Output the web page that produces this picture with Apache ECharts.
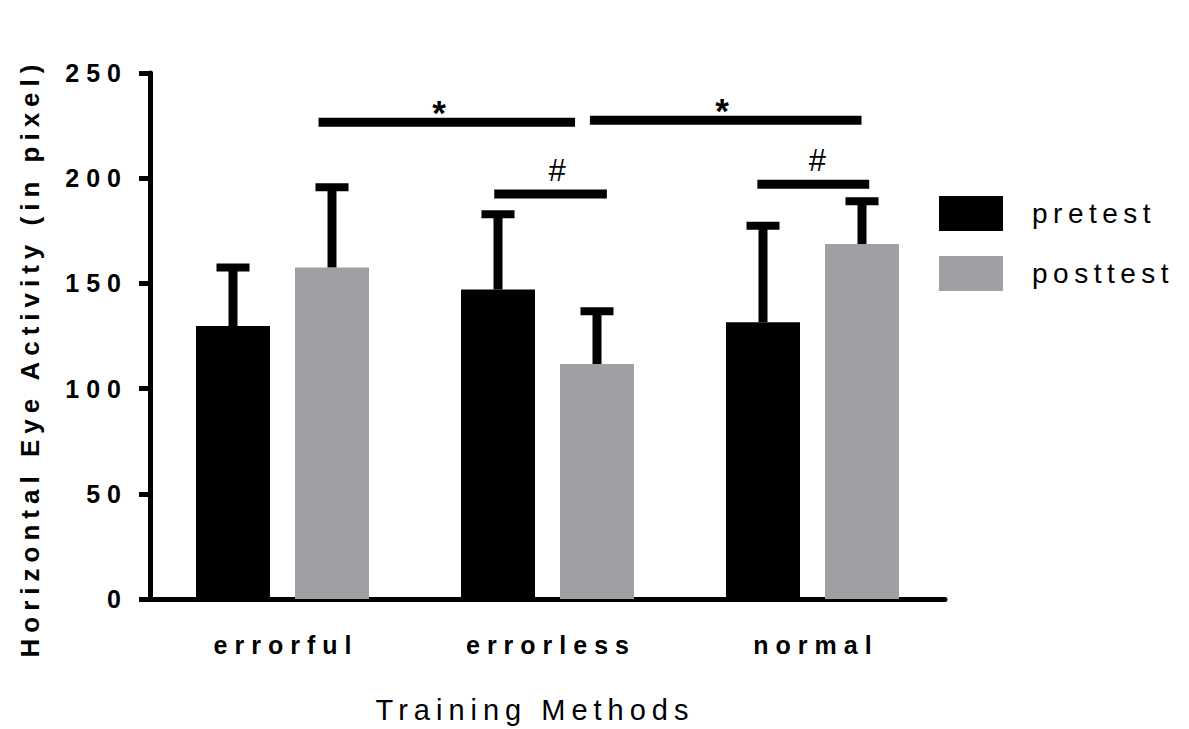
<!DOCTYPE html>
<html>
<head>
<meta charset="utf-8">
<script src="https://cdn.jsdelivr.net/npm/echarts@6/dist/echarts.min.js"></script>
<style>
html,body{margin:0;padding:0;background:#fff;}
#chart{width:1189px;height:729px;}
</style>
</head>
<body>
<div id="chart"></div>
<script>
// ---- data ----
const categories = ['errorful', 'errorless', 'normal'];
const seriesNames = ['pretest', 'posttest'];
const pretestMean = [129.7, 147.1, 131.5];
const posttestMean = [157.6, 111.7, 168.7];
const pretestUpper = [157.5, 182.9, 177.4];
const posttestUpper = [195.7, 136.8, 189.1];
const yMin = 0, yMax = 250, yInterval = 50;
const xTitle = 'Training Methods';
const yTitle = 'Horizontal Eye Activity (in pixel)';
// significance annotations (x in category units, y in data units)
const sigStart = [0.136, 1.160, 0.799, 1.792];
const sigEnd = [1.104, 2.185, 1.224, 2.214];
const sigY = [226.6, 227.5, 192.5, 197.1];
const sigLabel = ['*', '*', '#', '#'];
const sigLabelX = [0.591, 1.659, 1.036, 2.018];

// ---- styles ----
const FONT = '"Liberation Sans", Arial, sans-serif';
const BAR_W = 74, BAR_GAP = 25;
const OFFSET = (BAR_W + BAR_GAP) / 2;
const colors = ['#000000', '#a0a0a4'];
const spacingBySize = {'25px': 7, '24px': 7.5, '29px': 6, '26px': 6, '28px': 5.5};

function errorRender(side) {
  return function (params, api) {
    const i = api.value(0);
    const base = api.coord([i, api.value(1)]);
    const top = api.coord([i, api.value(2)]);
    const x = base[0] + side * OFFSET;
    return {
      type: 'group',
      children: [
        {type: 'rect', shape: {x: x - 4.5, y: top[1], width: 9, height: base[1] - top[1]}, style: {fill: '#000'}},
        {type: 'rect', shape: {x: x - 16.5, y: top[1] - 4, width: 33, height: 8}, style: {fill: '#000'}}
      ]
    };
  };
}

const errPre = categories.map((c, i) => [i, pretestMean[i], pretestUpper[i]]);
const errPost = categories.map((c, i) => [i, posttestMean[i], posttestUpper[i]]);
const sigData = sigY.map((y, i) => [0, sigStart[i], sigEnd[i], y, sigLabelX[i]]);

const chart = echarts.init(document.getElementById('chart'), null, {renderer: 'svg'});
chart.setOption({
  animation: false,
  backgroundColor: '#fff',
  grid: {left: 150, right: 244, top: 73, bottom: 130, containLabel: false, outerBoundsMode: 'none'},
  legend: {
    orient: 'vertical', left: 939, top: 196, padding: 0, itemWidth: 64, itemHeight: 35, itemGap: 25,
    icon: 'rect', data: seriesNames,
    textStyle: {fontFamily: FONT, fontSize: 28, color: '#000', padding: [0, 0, 0, 24]}
  },
  xAxis: {
    type: 'category', data: categories,
    axisLine: {lineStyle: {color: '#000', width: 5}},
    axisTick: {alignWithLabel: true, length: 11, lineStyle: {color: '#000', width: 4}},
    axisLabel: {fontFamily: FONT, fontSize: 25, fontWeight: 'bold', color: '#000', margin: 33}
  },
  yAxis: {
    type: 'value', min: yMin, max: yMax, interval: yInterval,
    splitLine: {show: false},
    axisLine: {show: true, lineStyle: {color: '#000', width: 5}},
    axisTick: {show: true, length: 11, lineStyle: {color: '#000', width: 5}},
    axisLabel: {fontFamily: FONT, fontSize: 25, fontWeight: 'bold', color: '#000', margin: 29}
  },
  graphic: [
    {type: 'text', x: 532, y: 710, style: {text: xTitle, fontFamily: FONT, fontSize: 29, fill: '#000', textAlign: 'center', textVerticalAlign: 'middle'}},
    {type: 'text', x: 30, y: 361, rotation: Math.PI / 2, style: {text: yTitle, fontFamily: FONT, fontSize: 26, fontWeight: 'bold', fill: '#000', textAlign: 'center', textVerticalAlign: 'middle'}}
  ],
  series: [
    {name: seriesNames[0], type: 'bar', data: pretestMean, barWidth: BAR_W, barGap: (BAR_GAP / BAR_W * 100) + '%', itemStyle: {color: colors[0]}},
    {name: seriesNames[1], type: 'bar', data: posttestMean, barWidth: BAR_W, barGap: (BAR_GAP / BAR_W * 100) + '%', itemStyle: {color: colors[1]}},
    {type: 'custom', data: errPre, encode: {x: 0, y: [1, 2]}, renderItem: errorRender(-1), z: 5},
    {type: 'custom', data: errPost, encode: {x: 0, y: [1, 2]}, renderItem: errorRender(1), z: 5},
    {
      type: 'custom', data: sigData, encode: {x: 0, y: 3}, z: 5,
      renderItem: function (params, api) {
        const c0 = api.coord([0, api.value(3)]);
        const band = api.size([1, 0])[0];
        const x1 = c0[0] + api.value(1) * band;
        const x2 = c0[0] + api.value(2) * band;
        const y = c0[1];
        const lx = c0[0] + api.value(4) * band;
        const lab = sigLabel[params.dataIndex];
        const isStar = lab === '*';
        return {
          type: 'group',
          children: [
            {type: 'rect', shape: {x: x1, y: y - 4.5, width: x2 - x1, height: 9}, style: {fill: '#000'}},
            {type: 'text', x: lx, y: isStar ? y - 27 : y - 8,
              style: {text: lab, fontFamily: FONT, fontSize: isStar ? 35 : 31, fontWeight: isStar ? 'bold' : 'normal', fill: '#000', textAlign: 'center', textVerticalAlign: isStar ? 'top' : 'bottom'}}
          ]
        };
      }
    }
  ]
});

function applySpacing() {
  const texts = document.querySelectorAll('#chart svg text');
  texts.forEach(t => {
    const cs = getComputedStyle(t);
    const s = spacingBySize[cs.fontSize];
    if (!s) return;
    t.style.letterSpacing = s + 'px';
    const anchor = t.getAttribute('text-anchor') || cs.textAnchor;
    const dx = anchor === 'middle' ? s / 2 : (anchor === 'end' ? s : 0);
    if (dx) t.setAttribute('dx', dx);
  });
}
chart.on('finished', applySpacing);
applySpacing();
setTimeout(applySpacing, 50);
</script>
</body>
</html>
